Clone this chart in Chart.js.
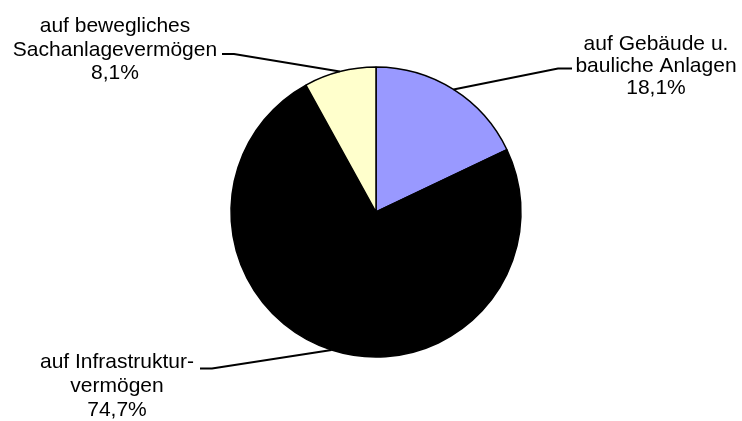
<!DOCTYPE html>
<html>
<head>
<meta charset="utf-8">
<script src="https://cdn.jsdelivr.net/npm/chart.js@4"></script>
<style>
  html, body { margin: 0; padding: 0; background: #fff; }
  #wrap { width: 742px; height: 421px; position: relative; }
</style>
</head>
<body>
<div id="wrap"><canvas id="pie"></canvas></div>
<script>
// Data
const categories = [
  ['auf Gebäude u.', 'bauliche Anlagen'],
  ['auf Infrastruktur-', 'vermögen'],
  ['auf bewegliches', 'Sachanlagevermögen']
];
const shares = [18.1, 74.7, 8.1];
const shareLabels = ['18,1%', '74,7%', '8,1%'];
const sliceColors = ['#9999FF', '#000000', '#FFFFCC'];

// Label placement (text centre x, first baseline y, leader start/elbow)
const labelLayout = [
  { cx: 656, y0: 50, lh: 22, lx: 572, ex: 558, ly: 68.5 },
  { cx: 117, y0: 368, lh: 24, lx: 200, ex: 212, ly: 368.5 },
  { cx: 115, y0: 32, lh: 23.5, lx: 222, ex: 234, ly: 54 }
];

const leaderLabels = {
  id: 'leaderLabels',
  afterDraw(chart) {
    const ctx = chart.ctx;
    const arcs = chart.getDatasetMeta(0).data;
    ctx.save();
    arcs.forEach((arc, i) => {
      const p = arc.getProps(['x', 'y', 'startAngle', 'endAngle', 'outerRadius'], true);
      const mid = (p.startAngle + p.endAngle) / 2;
      const px = p.x + Math.cos(mid) * p.outerRadius;
      const py = p.y + Math.sin(mid) * p.outerRadius;
      const L = labelLayout[i];
      ctx.strokeStyle = '#000';
      ctx.lineWidth = 2;
      ctx.beginPath();
      ctx.moveTo(L.lx, L.ly);
      ctx.lineTo(L.ex, L.ly);
      ctx.lineTo(px, py);
      ctx.stroke();

      ctx.fillStyle = '#000';
      ctx.font = '21px "Liberation Sans", Arial, sans-serif';
      ctx.textAlign = 'center';
      ctx.textBaseline = 'alphabetic';
      const lines = categories[i].concat([shareLabels[i]]);
      lines.forEach((t, k) => ctx.fillText(t, L.cx, L.y0 + k * L.lh));
    });
    ctx.restore();
  }
};

new Chart(document.getElementById('pie'), {
  type: 'pie',
  data: {
    labels: categories.map(c => c.join(' ')),
    datasets: [{
      data: shares,
      backgroundColor: sliceColors,
      borderColor: '#000',
      borderWidth: 1.5
    }]
  },
  options: {
    responsive: true,
    maintainAspectRatio: false,
    animation: false,
    radius: 145,
    layout: { padding: { left: 231, right: 221, top: 67, bottom: 64 } },
    plugins: { legend: { display: false }, tooltip: { enabled: false } }
  },
  plugins: [leaderLabels]
});
</script>
</body>
</html>
